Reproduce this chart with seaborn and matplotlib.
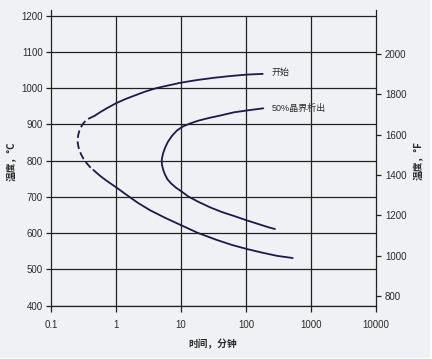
import numpy as np
import pandas as pd
import matplotlib
matplotlib.use('Agg')
import matplotlib.pyplot as plt
from matplotlib.patches import Rectangle
from matplotlib.ticker import NullLocator
import seaborn as sns

# Curve "开始" (start of precipitation): time in min, temperature in C
start_top_time = [181, 102, 56.7, 31.4, 17.6, 10.1, 6.31, 4.23, 2.79, 1.85, 1.37, 1.0, 0.719, 0.567, 0.475]
start_top_temp = [1039, 1037, 1033, 1028, 1022, 1015, 1007, 1000, 990, 978, 969, 958, 944, 933, 924]
# dashed nose part
start_nose_time = [0.475, 0.406, 0.354, 0.316, 0.289, 0.272, 0.262, 0.257, 0.258, 0.265,
                   0.277, 0.294, 0.316, 0.345, 0.398, 0.448]
start_nose_temp = [924, 918, 913, 903, 892, 881, 870, 859, 848, 837,
                   826, 815, 805, 795, 782, 774]
start_low_time = [0.448, 0.567, 0.719, 1.026, 1.46, 2.18, 3.33, 5.68, 10.2, 18.3,
                  35.4, 60.9, 102.5, 176, 300, 523]
start_low_temp = [774, 758, 744, 725, 705, 683, 663, 642, 621, 600,
                  581, 567, 556, 546, 537, 531]

# Curve "50%晶界析出"
half_time = [184.5, 102.5, 65.3, 42.3, 27.9, 18.5, 13.7, 10.7, 8.68, 7.27, 6.31, 5.68,
             5.29, 5.1, 5.05, 5.1, 5.35, 5.68, 6.2, 7.02, 8.38, 10.3, 12.9, 18.5,
             27.9, 42.3, 65.3, 102.5, 153, 220, 279]
half_temp = [944, 938, 933, 925, 918, 910, 902, 894, 883, 868, 852, 835,
             819, 806, 798, 788, 773, 761, 748, 737, 725, 714, 701, 686,
             671, 658, 647, 635, 625, 616, 611]

curve_labels = ['开始', '50%晶界析出']
label_time = [250, 250]
label_temp = [1044, 945]

x_ticks = [0.1, 1, 10, 100, 1000, 10000]
x_tick_labels = ['0.1', '1', '10', '100', '1000', '10000']
c_ticks = [400, 500, 600, 700, 800, 900, 1000, 1100, 1200]
f_ticks = [800, 1000, 1200, 1400, 1600, 1800, 2000]

bg = '#eff1f4'
ink = '#1c1a4a'
grid_c = '#222222'
text_c = '#2b2b2b'

sns.set_style('ticks')
plt.rcParams['font.family'] = ['Liberation Sans', 'Noto Sans CJK SC', 'DejaVu Sans']


def c2f(c):
    return c * 9 / 5 + 32


fig = plt.figure(figsize=(4.32, 3.59), dpi=100)
fig.patch.set_facecolor('white')
fig.add_artist(Rectangle((0, 2.5 / 359), 429 / 432, 1 - 2.5 / 359,
                         transform=fig.transFigure, color=bg, zorder=-10))
ax = fig.add_axes([51 / 432, 1 - 305.5 / 359, 325 / 432, 295.4 / 359])
ax.set_facecolor('none')

ax.set_xscale('log')
ax.set_xlim(0.1, 10000)
ax.set_ylim(400, 1215)

# grid
for yv in c_ticks:
    ax.axhline(yv, color=grid_c, lw=0.9, zorder=1)
ax.vlines(x_ticks[1:-1], c_ticks[0], c_ticks[-1], color=grid_c, lw=0.9, zorder=1)

top = pd.DataFrame({'time': start_top_time, 'temp': start_top_temp})
nose = pd.DataFrame({'time': start_nose_time, 'temp': start_nose_temp})
low = pd.DataFrame({'time': start_low_time, 'temp': start_low_temp})
half = pd.DataFrame({'time': half_time, 'temp': half_temp})

for d in [top, low, half]:
    sns.lineplot(data=d, x='time', y='temp', sort=False, estimator=None, ax=ax,
                 color=ink, linewidth=1.3, zorder=3)
sns.lineplot(data=nose, x='time', y='temp', sort=False, estimator=None, ax=ax,
             color=ink, linewidth=1.3, linestyle=(0, (4.2, 2.0)), zorder=3)

for lab, tx, ty in zip(curve_labels, label_time, label_temp):
    ax.text(tx, ty, lab, fontsize=6.5, color=text_c, va='center', ha='left',
            family=['Liberation Sans', 'Noto Sans CJK SC'])

ax.set_xticks(x_ticks)
ax.set_xticklabels(x_tick_labels)
ax.xaxis.set_minor_locator(NullLocator())
ax.set_yticks(c_ticks)
ax.tick_params(axis='x', length=4.5, width=0.9, pad=6, labelsize=7, colors=grid_c, labelcolor=text_c)
ax.tick_params(axis='y', length=3.5, width=0.9, pad=2.5, labelsize=7, colors=grid_c, labelcolor=text_c)

for s in ['top', 'right']:
    ax.spines[s].set_visible(False)
for s in ['left', 'bottom']:
    ax.spines[s].set_color(grid_c)
    ax.spines[s].set_linewidth(0.9)

ax2 = ax.twinx()
ax2.set_ylim(c2f(400), c2f(1215))
ax2.set_yticks(f_ticks)
ax2.yaxis.set_minor_locator(NullLocator())
ax2.tick_params(axis='y', length=3.5, width=0.9, pad=3, labelsize=7, colors=grid_c, labelcolor=text_c)
for s in ['top', 'left', 'bottom']:
    ax2.spines[s].set_visible(False)
ax2.spines['right'].set_color(grid_c)
ax2.spines['right'].set_linewidth(0.9)

lab_font = dict(family=['Noto Sans CJK SC', 'DejaVu Sans'], fontsize=7, fontweight='bold', color=text_c)
ax.set_xlabel('时间，分钟', **lab_font)
ax.set_ylabel('温度，°C', **lab_font)
ax2.set_ylabel('温度，°F', rotation=90, **lab_font)
ax.xaxis.set_label_coords(0.498, -0.112)
ax.yaxis.set_label_coords(-0.105, 0.49)
ax2.yaxis.set_label_coords(1.117, 0.49)

fig.savefig('out.png', dpi=100, facecolor=fig.get_facecolor())
